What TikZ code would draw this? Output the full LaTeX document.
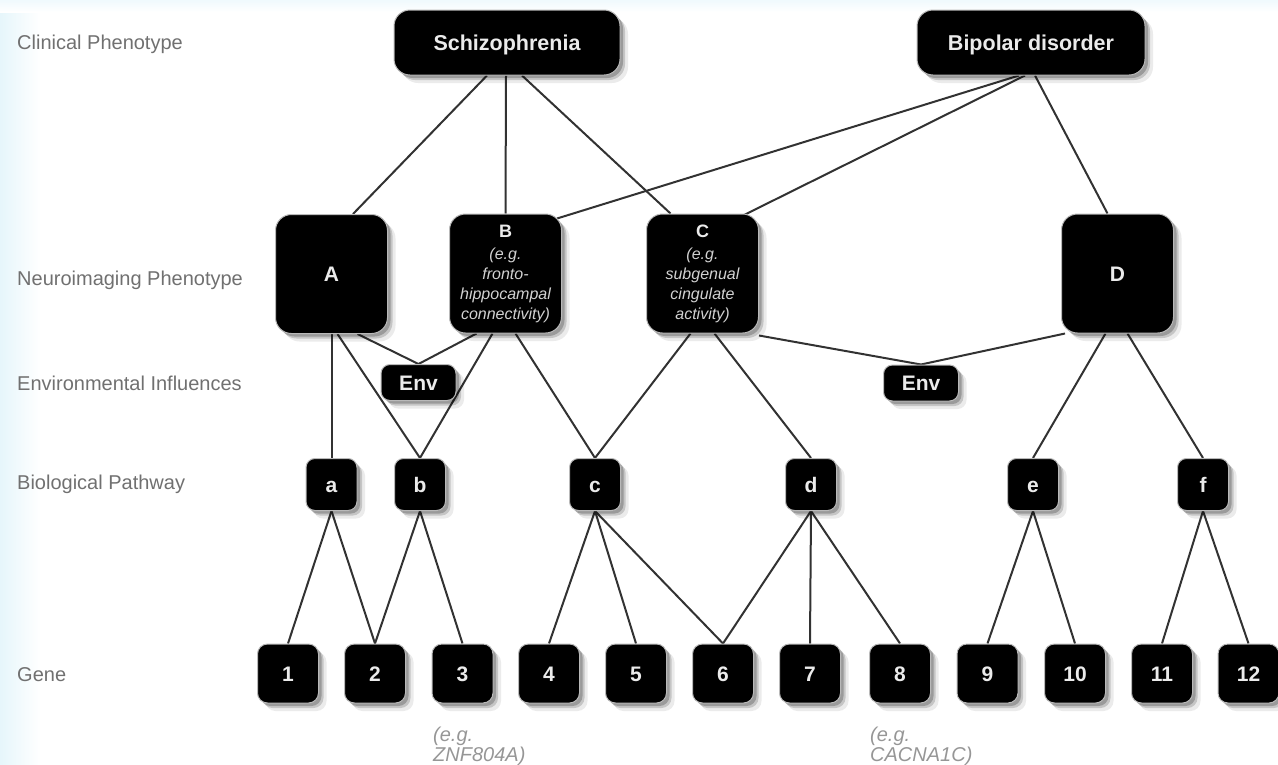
\documentclass[tikz,border=0pt]{standalone}
\usepackage{fontspec}
\setmainfont{Liberation Sans}
\usetikzlibrary{shadows,backgrounds}
\definecolor{lbl}{RGB}{112,112,112}
\definecolor{note}{RGB}{150,150,150}
\definecolor{edge}{RGB}{50,50,50}
\definecolor{tint}{RGB}{230,246,251}
\definecolor{boxtext}{RGB}{235,235,235}
\definecolor{subtext}{RGB}{210,210,210}
\newcommand\headfmt{\upshape\bfseries\fontsize{18}{20}\selectfont\color{boxtext}}
\begin{document}
\begin{tikzpicture}[x=1pt,y=-1pt,
  box/.style={draw=gray!55, line width=1pt, fill=black, rounded corners=13pt,
    text=boxtext, font=\bfseries\fontsize{21}{24}\selectfont, align=center, inner sep=0pt,
    text height=15pt, text depth=0pt,
    drop shadow={shadow xshift=8pt, shadow yshift=-8pt, fill=black, opacity=0.08},
    drop shadow={shadow xshift=5pt, shadow yshift=-5pt, fill=black, opacity=0.16},
    drop shadow={shadow xshift=3pt, shadow yshift=-3pt, fill=black, opacity=0.22}},
  phen/.style={box, minimum width=226pt, minimum height=65pt, rounded corners=16pt, font=\bfseries\fontsize{21.5}{24}\selectfont},
  neuro/.style={box, minimum width=112pt, minimum height=119pt, rounded corners=16pt},
  neurotext/.style={neuro, text height=, text depth=, font=\itshape\fontsize{16}{20}\selectfont, text=subtext},
  envbox/.style={box, minimum width=75pt, minimum height=36pt, rounded corners=9pt},
  path/.style={box, minimum width=51pt, minimum height=52pt, rounded corners=9pt},
  gene/.style={box, minimum width=61pt, minimum height=59pt, rounded corners=10pt},
  rowlabel/.style={anchor=west, text=lbl, font=\fontsize{20}{22}\selectfont, inner sep=0pt},
  notetext/.style={anchor=north west, align=left, text=note, font=\itshape\fontsize{20}{20}\selectfont, inner sep=0pt},
  link/.style={draw=edge, line width=2pt}
]
\useasboundingbox (0,0) rectangle (1278,764);

% row labels
\node[rowlabel] (lclin) at (17,44) {Clinical Phenotype};
\node[rowlabel] (lneuro) at (17,280) {Neuroimaging Phenotype};
\node[rowlabel] (lenv) at (17,383) {Environmental Influences};
\node[rowlabel] (lbio) at (17,484) {Biological Pathway};
\node[rowlabel] (lgene) at (17,675) {Gene};

% clinical
\node[phen] (scz) at (507,42.5) {Schizophrenia};
\node[phen, minimum width=228pt] (bip) at (1031,42.5) {Bipolar disorder};

% neuroimaging
\node[neuro] (A) at (331.5,274) {A};
\node[neurotext] (B) at (505.5,273.5) {{\headfmt B}\\[2pt](e.g.\\fronto-\\hippocampal\\connectivity)};
\node[neurotext] (C) at (702.5,273.5) {{\headfmt C}\\[2pt](e.g.\\subgenual\\cingulate\\activity)};
\node[neuro] (D) at (1117.5,273.5) {D};

% environment
\node[envbox] (env1) at (418.5,382.5) {Env};
\node[envbox] (env2) at (921,383) {Env};

% pathways
\node[path] (pa) at (331.5,484.5) {a};
\node[path] (pb) at (420,484.5) {b};
\node[path] (pc) at (595,484.5) {c};
\node[path] (pd) at (811,484.5) {d};
\node[path] (pe) at (1033,484.5) {e};
\node[path] (pf) at (1203,484.5) {f};

% genes
\foreach \n/\x in {1/288,2/375,3/462.5,4/549,5/636,6/723,7/810,8/900,9/987.5,10/1075,11/1162,12/1248.5}
  \node[gene] (g\n) at (\x,673.5) {\n};

% notes
\node[notetext] (n3) at (433,727) {(e.g.\\ZNF804A)};
\node[notetext] (n8) at (870,727) {(e.g.\\CACNA1C)};

\begin{scope}[on background layer]
  \shade[left color=tint, right color=white] (0,0) rectangle (40,764);
  \shade[top color=tint!60, bottom color=white] (0,0) rectangle (1278,12);
  % clinical to neuro
  \draw[link] ([xshift=-20pt]scz.south) -- ([xshift=21.5pt]A.north);
  \draw[link] ([xshift=-1pt]scz.south) -- (B.north);
  \draw[link] ([xshift=15pt]scz.south) -- ([xshift=-32pt]C.north);
  \draw[link] ([xshift=-12pt]bip.south) -- ([xshift=-5pt,yshift=-5pt]B.north east);
  \draw[link] ([xshift=-6pt]bip.south) -- ([xshift=-16pt,yshift=-2pt]C.north east);
  \draw[link] ([xshift=4pt]bip.south) -- ([xshift=-10pt]D.north);
  % neuro to env / pathway
  \draw[link] (A.south) -- (pa.north);
  \draw[link] ([xshift=6pt]A.south) -- (pb.north);
  \draw[link] ([xshift=26pt]A.south) -- (env1.north);
  \draw[link] ([xshift=-29pt]B.south) -- (env1.north);
  \draw[link] ([xshift=-13pt]B.south) -- (pb.north);
  \draw[link] ([xshift=10pt]B.south) -- (pc.north);
  \draw[link] ([xshift=-12pt]C.south) -- (pc.north);
  \draw[link] ([xshift=12pt]C.south) -- (pd.north);
  \draw[link] ([yshift=-2pt]C.south east) -- (env2.north);
  \draw[link] ([xshift=4pt]D.south west) -- (env2.north);
  \draw[link] ([xshift=-12pt]D.south) -- (pe.north);
  \draw[link] ([xshift=10pt]D.south) -- (pf.north);
  % pathway to gene
  \draw[link] (pa.south) -- (g1.north);
  \draw[link] (pa.south) -- (g2.north);
  \draw[link] (pb.south) -- (g2.north);
  \draw[link] (pb.south) -- (g3.north);
  \draw[link] (pc.south) -- (g4.north);
  \draw[link] (pc.south) -- (g5.north);
  \draw[link] (pc.south) -- (g6.north);
  \draw[link] (pd.south) -- (g6.north);
  \draw[link] (pd.south) -- (g7.north);
  \draw[link] (pd.south) -- (g8.north);
  \draw[link] (pe.south) -- (g9.north);
  \draw[link] (pe.south) -- (g10.north);
  \draw[link] (pf.south) -- (g11.north);
  \draw[link] (pf.south) -- (g12.north);
\end{scope}
\end{tikzpicture}
\end{document}
